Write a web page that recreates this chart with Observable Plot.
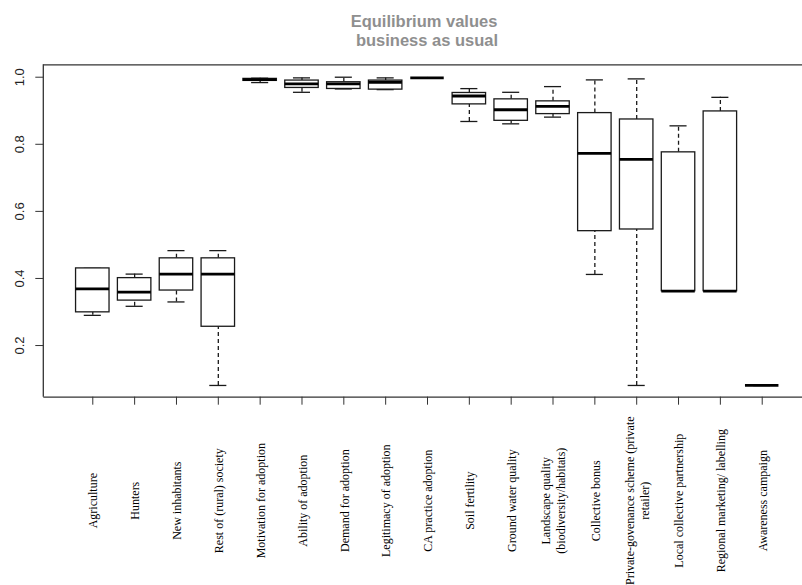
<!DOCTYPE html>
<html>
<head>
<meta charset="utf-8">
<script src="https://cdn.jsdelivr.net/npm/d3@7"></script>
<script src="https://cdn.jsdelivr.net/npm/@observablehq/plot@0.6"></script>
<style>
  html, body { margin: 0; padding: 0; background: white; overflow: hidden; }
  #title { width: 802px; height: 50px; box-sizing: border-box; padding-top: 11.5px;
    font-family: "Liberation Sans", Arial, sans-serif; font-weight: bold; font-size: 16.5px;
    line-height: 19px; color: #8f8f8f; }
  #title div { position: relative; text-align: center; white-space: pre; }
  #chart svg { display: block; }
</style>
</head>
<body>
<div id="title"></div>
<div id="chart"></div>
<script>
const titleLines = ["Equilibrium values", "business as usual"];
const categories = [
  "Agriculture", "Hunters", "New inhabitants", "Rest of (rural) society",
  "Motivation for adoption", "Ability of adoption", "Demand for adoption",
  "Legitimacy of adoption", "CA practice adoption", "Soil fertility",
  "Ground water quality", "Landscape quality\n(biodiversity/habitats)",
  "Collective bonus", "Private-govenance scheme (private\nretailer)",
  "Local collective partnership", "Regional marketing/ labelling", "Awareness campaign"
];
const whiskerLow  = [0.290, 0.317, 0.330, 0.081, 0.984, 0.955, 0.965, 0.963, 0.998, 0.868, 0.861, 0.881, 0.412, 0.081, 0.362, 0.362, 0.081];
const q1          = [0.299, 0.334, 0.364, 0.256, 0.989, 0.968, 0.965, 0.963, 0.998, 0.919, 0.870, 0.890, 0.541, 0.546, 0.362, 0.362, 0.081];
const median      = [0.369, 0.359, 0.413, 0.413, 0.993, 0.980, 0.980, 0.985, 0.998, 0.944, 0.903, 0.913, 0.773, 0.755, 0.362, 0.362, 0.081];
const q3          = [0.430, 0.401, 0.460, 0.460, 0.995, 0.990, 0.985, 0.990, 0.998, 0.953, 0.934, 0.928, 0.893, 0.874, 0.776, 0.898, 0.081];
const whiskerHigh = [0.430, 0.413, 0.483, 0.483, 0.997, 0.998, 1.000, 0.998, 0.998, 0.966, 0.955, 0.972, 0.992, 0.995, 0.855, 0.940, 0.081];
const yTicks = [0.2, 0.4, 0.6, 0.8, 1.0];
const yDomain = [0.046, 1.037];

// title
const t = document.getElementById("title");
titleLines.forEach((s, i) => {
  const d = document.createElement("div");
  d.textContent = s;
  d.style.left = (i === 0 ? 23 : 26) + "px";
  t.appendChild(d);
});

const rows = categories.map((c, i) => ({
  cat: c, lo: whiskerLow[i], q1: q1[i], med: median[i], q3: q3[i], hi: whiskerHigh[i]
}));

const ink = "#1a1a1a";
const leftBorder = (index, scales, values, dim) => {
  const g = d3.create("svg:line")
    .attr("x1", dim.marginLeft).attr("x2", dim.marginLeft)
    .attr("y1", dim.marginTop).attr("y2", dim.height - dim.marginBottom)
    .attr("stroke", "#333").attr("stroke-width", 1.3);
  return g.node();
};

const chart = Plot.plot({
  width: 802, height: 535,
  marginTop: 14.3, marginBottom: 188.3, marginLeft: 43.3, marginRight: 0,
  style: { background: "white", overflow: "hidden" },
  x: { type: "band", domain: categories, range: [43.3, 810.7], paddingInner: 0.2, paddingOuter: 0.771, align: 0.5, round: false, label: null, axis: null },
  y: { domain: yDomain, label: null, axis: null },
  marks: [
    Plot.ruleX(rows, { x: "cat", y1: "q3", y2: "hi", stroke: ink, strokeWidth: 1.3, strokeDasharray: "4,3" }),
    Plot.ruleX(rows, { x: "cat", y1: "lo", y2: "q1", stroke: ink, strokeWidth: 1.3, strokeDasharray: "4,3" }),
    Plot.tickY(rows, { x: "cat", y: "hi", insetLeft: 8.2, insetRight: 8.2, stroke: ink, strokeWidth: 1.3 }),
    Plot.tickY(rows, { x: "cat", y: "lo", insetLeft: 8.2, insetRight: 8.2, stroke: ink, strokeWidth: 1.3 }),
    Plot.barY(rows, { x: "cat", y1: "q1", y2: "q3", fill: "white", stroke: ink, strokeWidth: 1.3 }),
    Plot.tickY(rows, { x: "cat", y: "med", stroke: "#000", strokeWidth: 2.8 }),
    Plot.ruleY(yDomain, { stroke: "#333", strokeWidth: 1.3 }),
    leftBorder,
    Plot.axisX({ tickSize: 8, tickFormat: () => "", label: null, stroke: "#333" }),
    Plot.axisY({ ticks: yTicks, tickSize: 8, tickFormat: () => "", label: null, stroke: "#333" }),
    Plot.text(yTicks, { y: d => d, text: d => d.toFixed(1), frameAnchor: "left", dx: -24.3, rotate: -90,
      textAnchor: "middle", lineAnchor: "middle", fontSize: 13, fontFamily: "Liberation Sans", fill: "#222" }),
    Plot.text(rows, { x: "cat", text: "cat", frameAnchor: "bottom", dy: 103.5, rotate: -90,
      textAnchor: "middle", lineAnchor: "middle", fontSize: 12, lineHeight: 1.22,
      fontFamily: "Liberation Serif", fill: "#000" })
  ]
});
document.getElementById("chart").appendChild(chart);
</script>
</body>
</html>
